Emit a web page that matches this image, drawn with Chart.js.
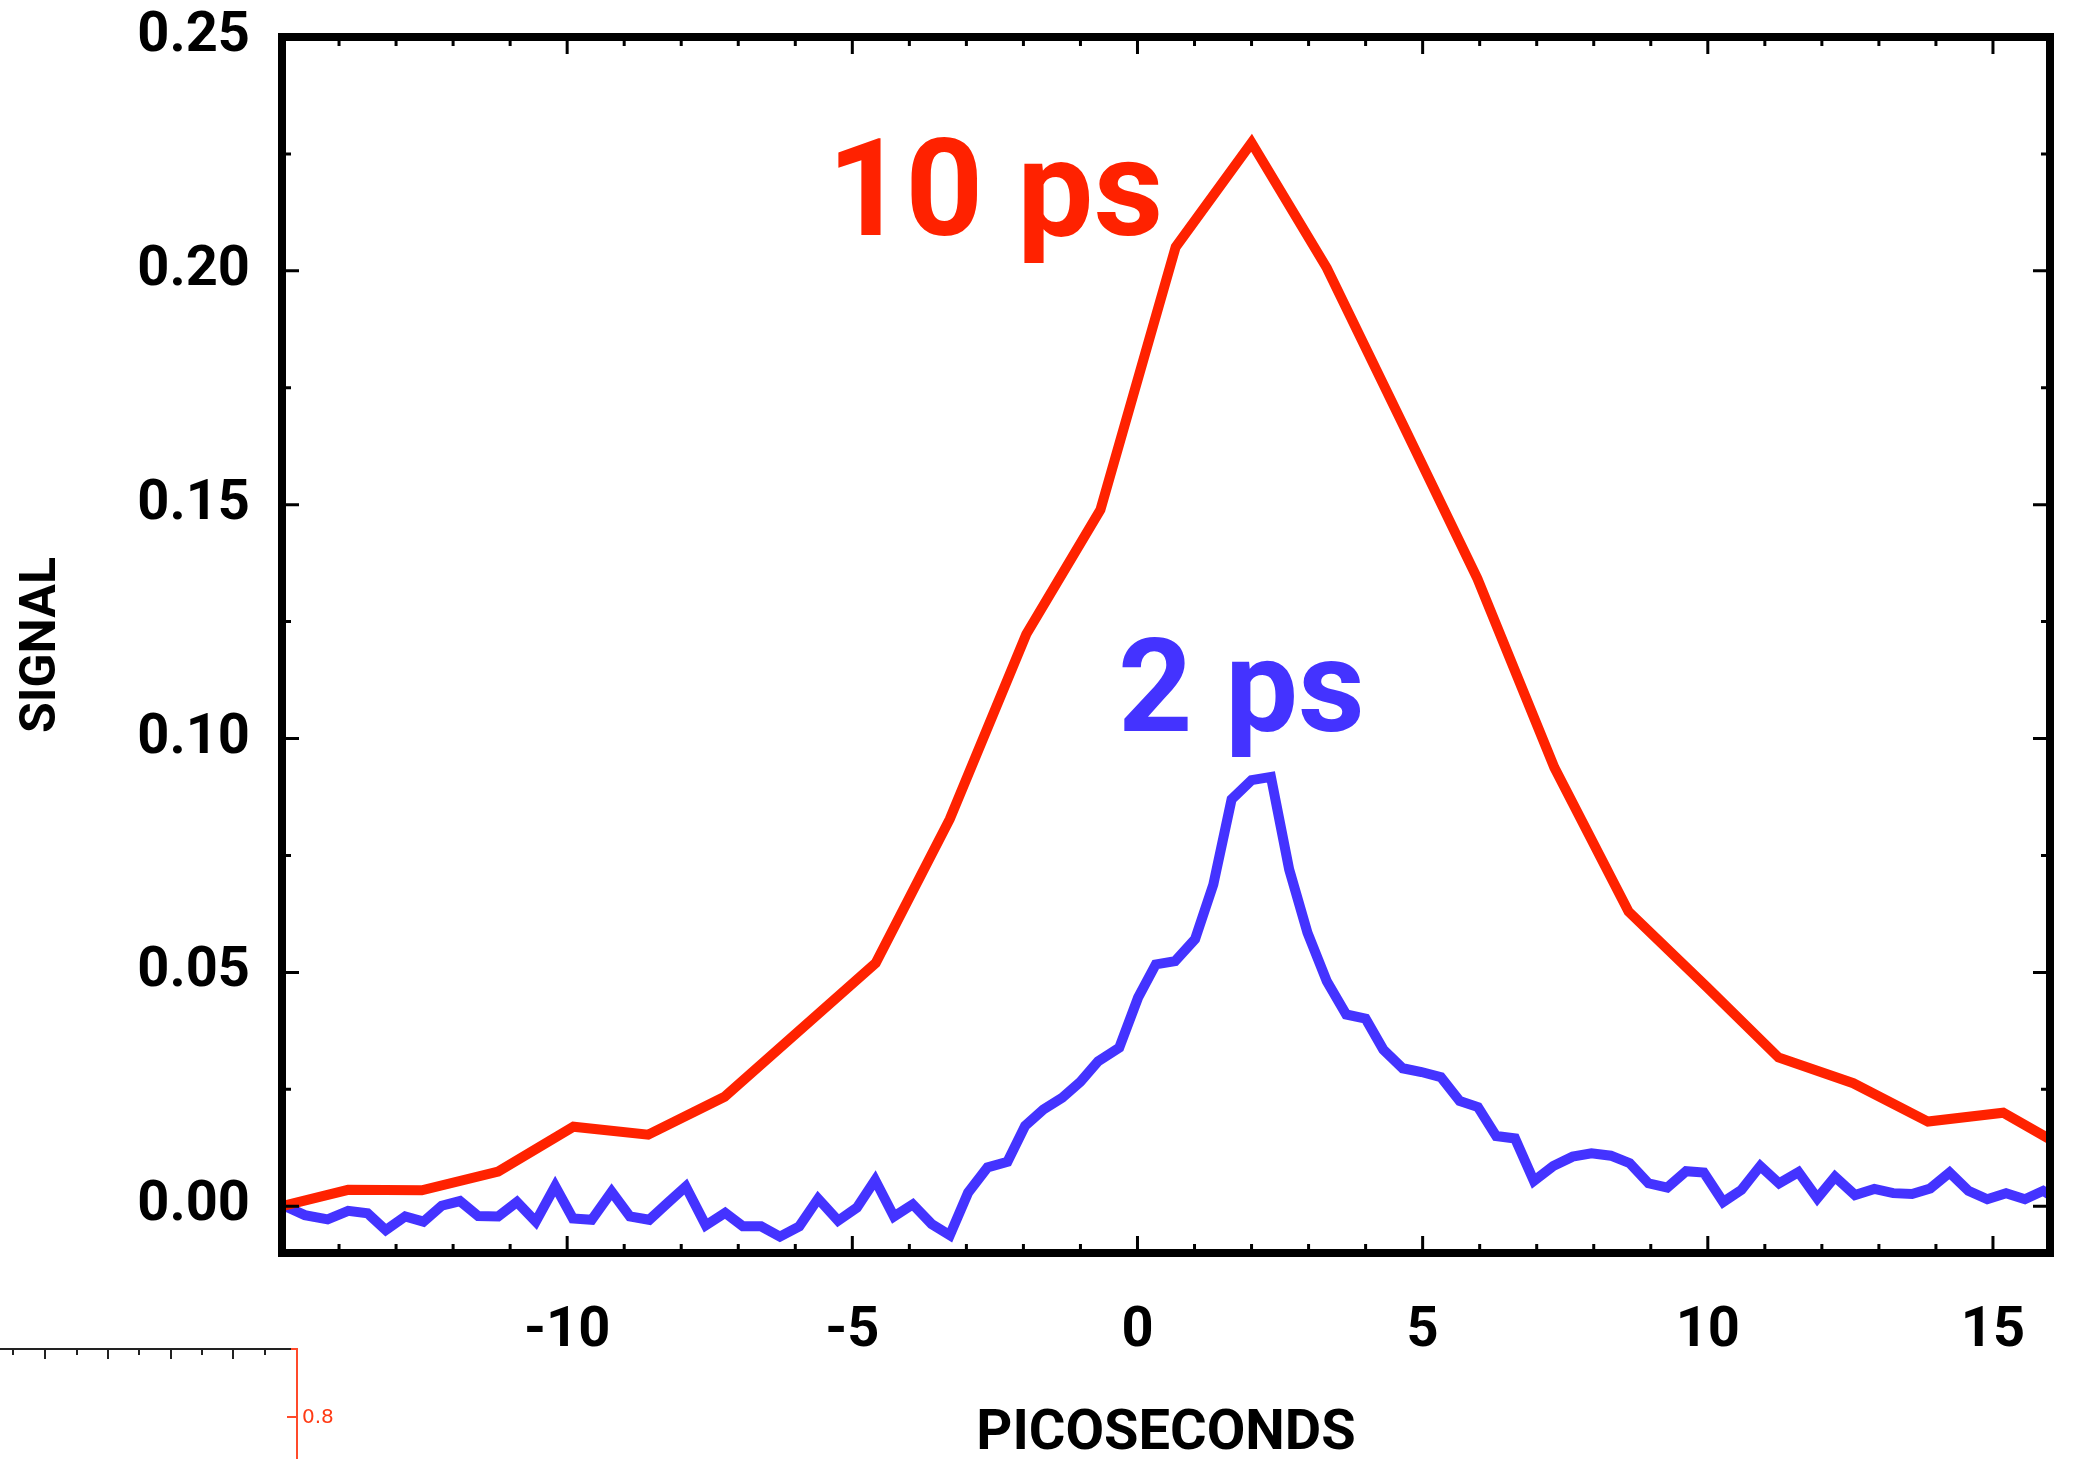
<!DOCTYPE html>
<html>
<head>
<meta charset="utf-8">
<title>Signal vs picoseconds</title>
<script src="https://cdn.jsdelivr.net/npm/chart.js@4.4.1/dist/chart.umd.min.js"></script>
<style>
    html, body { margin: 0; padding: 0; background: #fff; }
    canvas { display: block; }
</style>
</head>
<body>
<canvas id="signalChart" width="2074" height="1459"></canvas>
<script>
// axis ranges and labelled ticks
const xRange = [-15, 16];
const yRange = [-0.01, 0.25];
const xTickLabels = [-10, -5, 0, 5, 10, 15];
const yTickLabels = [0.00, 0.05, 0.10, 0.15, 0.20, 0.25];

// 10 ps pulse
const redX = [-15.0, -13.84, -12.55, -11.21, -9.89, -8.58, -7.24, -4.59, -3.29, -1.95, -0.65,
    0.67, 2.0, 3.32, 4.64, 5.96, 7.31, 8.61, 9.98, 11.24, 12.55, 13.86, 15.18, 16.0];
const redY = [0.0000, 0.0035, 0.0034, 0.0074, 0.0170, 0.0153, 0.0234, 0.0520, 0.0828, 0.1223, 0.1489,
    0.2051, 0.2274, 0.2006, 0.1675, 0.1342, 0.0938, 0.0630, 0.0469, 0.0318, 0.0263, 0.0181, 0.0200, 0.0143];

// 2 ps pulse
const blueX = [-15.0, -14.6, -14.2, -13.84, -13.5, -13.18, -12.84, -12.52, -12.2, -11.88,
    -11.56, -11.21, -10.88, -10.55, -10.21, -9.9, -9.57, -9.22, -8.9, -8.56,
    -8.23, -7.92, -7.57, -7.23, -6.92, -6.6, -6.27, -5.93, -5.6, -5.25,
    -4.92, -4.6, -4.27, -3.94, -3.61, -3.29, -2.97, -2.63, -2.28, -1.97,
    -1.65, -1.32, -1.0, -0.69, -0.32, 0.01, 0.32, 0.66, 1.01, 1.33,
    1.65, 2.0, 2.34, 2.66, 2.98, 3.32, 3.66, 4.0, 4.31, 4.65,
    4.98, 5.32, 5.65, 5.97, 6.29, 6.62, 6.95, 7.29, 7.63, 7.96,
    8.3, 8.63, 8.96, 9.29, 9.62, 9.93, 10.27, 10.59, 10.92, 11.25,
    11.59, 11.92, 12.23, 12.58, 12.92, 13.25, 13.58, 13.9, 14.24, 14.57,
    14.9, 15.23, 15.56, 15.88, 16.0];
const blueY = [0.0003, -0.0019, -0.0028, -0.0010, -0.0015, -0.0051, -0.0022, -0.0033, 0.0001, 0.0011,
    -0.0021, -0.0022, 0.0009, -0.0033, 0.0043, -0.0026, -0.0029, 0.0031, -0.0022, -0.0029,
    0.0008, 0.0042, -0.0041, -0.0014, -0.0043, -0.0043, -0.0065, -0.0043, 0.0016, -0.0031,
    -0.0003, 0.0056, -0.0022, 0.0004, -0.0038, -0.0062, 0.0029, 0.0083, 0.0095, 0.0172,
    0.0207, 0.0232, 0.0266, 0.0310, 0.0339, 0.0446, 0.0517, 0.0524, 0.0571, 0.0688,
    0.0870, 0.0911, 0.0918, 0.0720, 0.0585, 0.0481, 0.0410, 0.0401, 0.0335, 0.0295,
    0.0287, 0.0276, 0.0225, 0.0212, 0.0150, 0.0145, 0.0054, 0.0086, 0.0106, 0.0113,
    0.0108, 0.0092, 0.0049, 0.0040, 0.0075, 0.0072, 0.0009, 0.0035, 0.0086, 0.0049,
    0.0073, 0.0017, 0.0063, 0.0024, 0.0037, 0.0028, 0.0026, 0.0038, 0.0072, 0.0033,
    0.0015, 0.0028, 0.0015, 0.0033, 0.0024];

// curve labels, anchored in data units (left edge, baseline)
const curveLabels = [
    { text: '10 ps', x: -5.44, y: 0.2077, color: '#ff2200', size: 136 },
    { text: '2 ps', x: -0.34, y: 0.1017, color: '#4433ff', size: 130 }
];

const RED = '#ff2200';
const BLUE = '#4433ff';
const FONT = 'Roboto';

function toPoints(xs, ys) {
    return xs.map(function (x, i) { return { x: x, y: ys[i] }; });
}

// box around the plot with inward ticks on all four sides
const frameTicks = {
    id: 'frameTicks',
    afterDatasetsDraw: function (chart) {
        const ctx = chart.ctx;
        const a = chart.chartArea;
        const xs = chart.scales.x;
        const ys = chart.scales.y;
        ctx.save();
        ctx.strokeStyle = '#000';
        ctx.lineCap = 'butt';

        ctx.lineWidth = 3;
        for (let v = -14; v <= 15; v++) {
            const px = xs.getPixelForValue(v);
            const len = v % 5 === 0 ? 17 : 9;
            ctx.beginPath();
            ctx.moveTo(px, a.bottom);
            ctx.lineTo(px, a.bottom - len);
            ctx.moveTo(px, a.top);
            ctx.lineTo(px, a.top + len);
            ctx.stroke();
        }
        for (let k = 0; k <= 9; k++) {
            const v = k * 0.025;
            const py = ys.getPixelForValue(v);
            const len = k % 2 === 0 ? 17 : 9;
            ctx.beginPath();
            ctx.moveTo(a.left, py);
            ctx.lineTo(a.left + len, py);
            ctx.moveTo(a.right, py);
            ctx.lineTo(a.right - len, py);
            ctx.stroke();
        }

        ctx.lineWidth = 8;
        ctx.lineJoin = 'miter';
        ctx.strokeRect(a.left, a.top, a.right - a.left, a.bottom - a.top);

        curveLabels.forEach(function (lab) {
            ctx.font = 'bold ' + lab.size + 'px ' + FONT;
            ctx.fillStyle = lab.color;
            ctx.textAlign = 'left';
            ctx.textBaseline = 'alphabetic';
            ctx.fillText(lab.text, xs.getPixelForValue(lab.x), ys.getPixelForValue(lab.y));
        });
        ctx.restore();
    }
};

// leftover corner of a neighbouring plot, bottom left
const insetCorner = {
    id: 'insetCorner',
    afterDraw: function (chart) {
        const ctx = chart.ctx;
        ctx.save();
        ctx.strokeStyle = '#222';
        ctx.lineWidth = 2;
        ctx.beginPath();
        ctx.moveTo(0, 1349);
        ctx.lineTo(292, 1349);
        const tickX = [13, 45, 77, 108, 139, 171, 202, 233, 265];
        tickX.forEach(function (tx, i) {
            ctx.moveTo(tx, 1349);
            ctx.lineTo(tx, 1349 + (i % 2 === 0 ? 6 : 10));
        });
        ctx.stroke();

        ctx.strokeStyle = '#ff4a2a';
        ctx.beginPath();
        ctx.moveTo(291, 1349);
        ctx.lineTo(297, 1349);
        ctx.lineTo(297, 1459);
        ctx.moveTo(287, 1417);
        ctx.lineTo(297, 1417);
        ctx.stroke();

        ctx.fillStyle = '#ff3a14';
        ctx.font = '20px "DejaVu Sans"';
        ctx.textAlign = 'left';
        ctx.textBaseline = 'middle';
        ctx.fillText('0.8', 302, 1418);
        ctx.restore();
    }
};

function drawChart() {
    const ctx = document.getElementById('signalChart').getContext('2d');

    new Chart(ctx, {
        type: 'line',
        data: {
            datasets: [{
                label: '10 ps',
                data: toPoints(redX, redY),
                borderColor: RED,
                borderWidth: 10,
                pointRadius: 0,
                tension: 0,
                fill: false
            }, {
                label: '2 ps',
                data: toPoints(blueX, blueY),
                borderColor: BLUE,
                borderWidth: 10,
                pointRadius: 0,
                tension: 0,
                fill: false
            }]
        },
        options: {
            responsive: false,
            animation: false,
            devicePixelRatio: 1,
            layout: {
                padding: { top: 37, right: 24, left: 0, bottom: 0 }
            },
            scales: {
                x: {
                    type: 'linear',
                    min: xRange[0],
                    max: xRange[1],
                    afterFit: function (scale) {
                        scale.height = 206;
                        scale.paddingLeft = 0;
                        scale.paddingRight = 0;
                    },
                    afterBuildTicks: function (scale) {
                        scale.ticks = xTickLabels.map(function (v) { return { value: v }; });
                    },
                    grid: { display: false, drawTicks: false },
                    border: { display: false },
                    ticks: {
                        padding: 45,
                        color: '#000',
                        maxRotation: 0,
                        font: { family: FONT, size: 56, weight: 'bold' },
                        callback: function (value) { return String(value); }
                    },
                    title: {
                        display: true,
                        text: 'PICOSECONDS',
                        color: '#000',
                        padding: 0,
                        font: { family: FONT, size: 56, weight: 'bold', lineHeight: 0.85 }
                    }
                },
                y: {
                    type: 'linear',
                    min: yRange[0],
                    max: yRange[1],
                    afterFit: function (scale) {
                        scale.width = 282;
                        scale.paddingTop = 0;
                        scale.paddingBottom = 0;
                    },
                    afterBuildTicks: function (scale) {
                        scale.ticks = yTickLabels.map(function (v) { return { value: v }; });
                    },
                    grid: { display: false, drawTicks: false },
                    border: { display: false },
                    ticks: {
                        padding: 32,
                        color: '#000',
                        font: { family: FONT, size: 56, weight: 'bold' },
                        callback: function (value) { return value.toFixed(2); }
                    },
                    title: {
                        display: true,
                        text: 'SIGNAL',
                        color: '#000',
                        padding: { top: 17, bottom: 0 },
                        font: { family: FONT, size: 50, weight: 'bold', lineHeight: 1 }
                    }
                }
            },
            plugins: {
                legend: { display: false },
                tooltip: { enabled: false }
            }
        },
        plugins: [frameTicks, insetCorner]
    });
}

document.fonts.load('bold 56px ' + FONT).then(drawChart, drawChart);
</script>
</body>
</html>
